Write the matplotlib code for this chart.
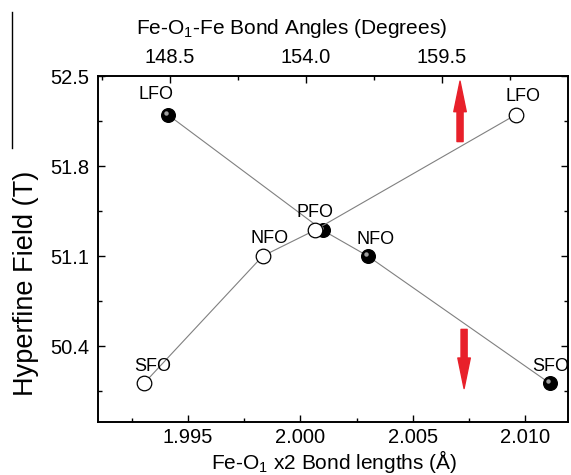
import matplotlib
matplotlib.use("Agg")
import matplotlib.pyplot as plt
import matplotlib.transforms as mtransforms
from matplotlib.ticker import FixedLocator

plt.rcParams['font.family'] = ['Liberation Sans', 'DejaVu Sans']
plt.rcParams['mathtext.fontset'] = 'custom'
plt.rcParams['mathtext.rm'] = 'Liberation Sans'
plt.rcParams['mathtext.it'] = 'Liberation Sans:italic'

# Data
names = ["LFO", "PFO", "NFO", "SFO"]
hyperfine = [52.20, 51.30, 51.10, 50.11]
bond_lengths = [1.9941, 2.0010, 2.0030, 2.0111]      # bottom axis, filled
bond_angles = [162.5, 154.35, 152.25, 147.45]        # top axis, open

y_ticks = [50.4, 51.1, 51.8, 52.5]
x_ticks = [1.995, 2.000, 2.005, 2.010]
x_tick_labels = ["1.995", "2.000", "2.005", "2.010"]
top_ticks = [148.5, 154.0, 159.5]
top_tick_labels = ["148.5", "154.0", "159.5"]

fig = plt.figure(figsize=(5.71, 4.75), dpi=100)
ax = fig.add_axes([0.1716, 0.1116, 0.8231, 0.7284])
ax2 = ax.twiny()

ax.set_xlim(1.991, 2.0119)
ax.set_ylim(49.81, 52.5)
ax2.set_xlim(145.59, 164.6)

# lines
ax.plot(bond_lengths, hyperfine, color='#808080', lw=0.8, zorder=2)
ax2.plot(bond_angles, hyperfine, color='#808080', lw=0.8, zorder=2)

# open circles (angles)
ax2.plot(bond_angles, hyperfine, 'o', ms=10.5, mfc='white', mec='black', mew=0.9, ls='none', zorder=3)
# filled spheres (lengths)
ax.plot(bond_lengths, hyperfine, 'o', ms=9.8, mfc='black', mec='black', ls='none', zorder=4)
hl = mtransforms.offset_copy(ax.transData, fig=fig, x=-2, y=2, units='dots')
ax.plot(bond_lengths, hyperfine, 'o', ms=3.2, mfc='#a0a0a0', mec='none', ls='none', zorder=5, transform=hl)

# labels
filled_off = {"LFO": (-12, 20), "PFO": (0, 18), "NFO": (8, 17), "SFO": (1, 17)}
open_off = {"LFO": (7, 18), "PFO": (0, 18), "NFO": (7, 18), "SFO": (9, 17)}
for n, xv, yv in zip(names, bond_lengths, hyperfine):
    if n == "PFO":
        continue
    ax.annotate(n, (xv, yv), xytext=filled_off[n], textcoords='offset pixels',
                ha='center', va='center', fontsize=13, zorder=6)
for n, xv, yv in zip(names, bond_angles, hyperfine):
    ax2.annotate(n, (xv, yv), xytext=open_off[n], textcoords='offset pixels',
                 ha='center', va='center', fontsize=13, zorder=6)

# red arrows
arrow_x = 2.0071
astyle = "simple,head_length=1.1,head_width=0.45,tail_width=0.22"
ax.annotate("", xy=(arrow_x, 52.46), xytext=(arrow_x, 51.99),
            arrowprops=dict(arrowstyle=astyle, color='#e8202a', shrinkA=0, shrinkB=0,
                            mutation_scale=20))
ax.annotate("", xy=(arrow_x + 0.00018, 50.07), xytext=(arrow_x + 0.00018, 50.53),
            arrowprops=dict(arrowstyle=astyle, color='#e8202a', shrinkA=0, shrinkB=0,
                            mutation_scale=20))

# ticks
ax.set_yticks(y_ticks)
ax.set_yticklabels([f"{v:.1f}" for v in y_ticks])
ax.yaxis.set_minor_locator(FixedLocator([50.05, 50.75, 51.45, 52.15]))
ax.set_xticks(x_ticks)
ax.set_xticklabels(x_tick_labels)
ax.xaxis.set_minor_locator(FixedLocator([1.9925, 1.9975, 2.0025, 2.0075]))
ax.tick_params(axis='both', which='major', direction='in', length=5, width=1, labelsize=14.5,
               right=True)
ax.tick_params(axis='y', which='major', pad=6.5)
ax.tick_params(axis='x', which='major', pad=4.5)
ax.tick_params(axis='both', which='minor', direction='in', length=3, width=1, right=True)
ax.tick_params(axis='x', which='both', top=False)

ax2.set_xticks(top_ticks)
ax2.set_xticklabels(top_tick_labels)
ax2.xaxis.set_minor_locator(FixedLocator([145.75, 151.25, 156.75, 162.25]))
ax2.tick_params(axis='x', which='major', direction='in', length=5, width=1, labelsize=14.5, pad=6.5)
ax2.tick_params(axis='x', which='minor', direction='in', length=3, width=1)

for a in (ax, ax2):
    for s in a.spines.values():
        s.set_linewidth(1.2)

ax.set_ylabel("Hyperfine Field (T)", fontsize=19.5)
ax.yaxis.set_label_coords(-0.126, 0.40)
ax.set_xlabel("Fe-O$_1$ x2 Bond lengths (Å)", fontsize=15, va='bottom')
ax.xaxis.set_label_coords(0.503, -0.153)
ax2.set_xlabel("Fe-O$_1$-Fe Bond Angles (Degrees)", fontsize=15, va='bottom')
ax2.xaxis.set_label_coords(0.413, 1.103)

# vertical artifact line at left edge
fig.add_artist(plt.Line2D([12/571, 12/571], [1 - 12/475, 1 - 148/475], color='black', lw=1,
                          transform=fig.transFigure))

fig.savefig("out.png", dpi=100)
